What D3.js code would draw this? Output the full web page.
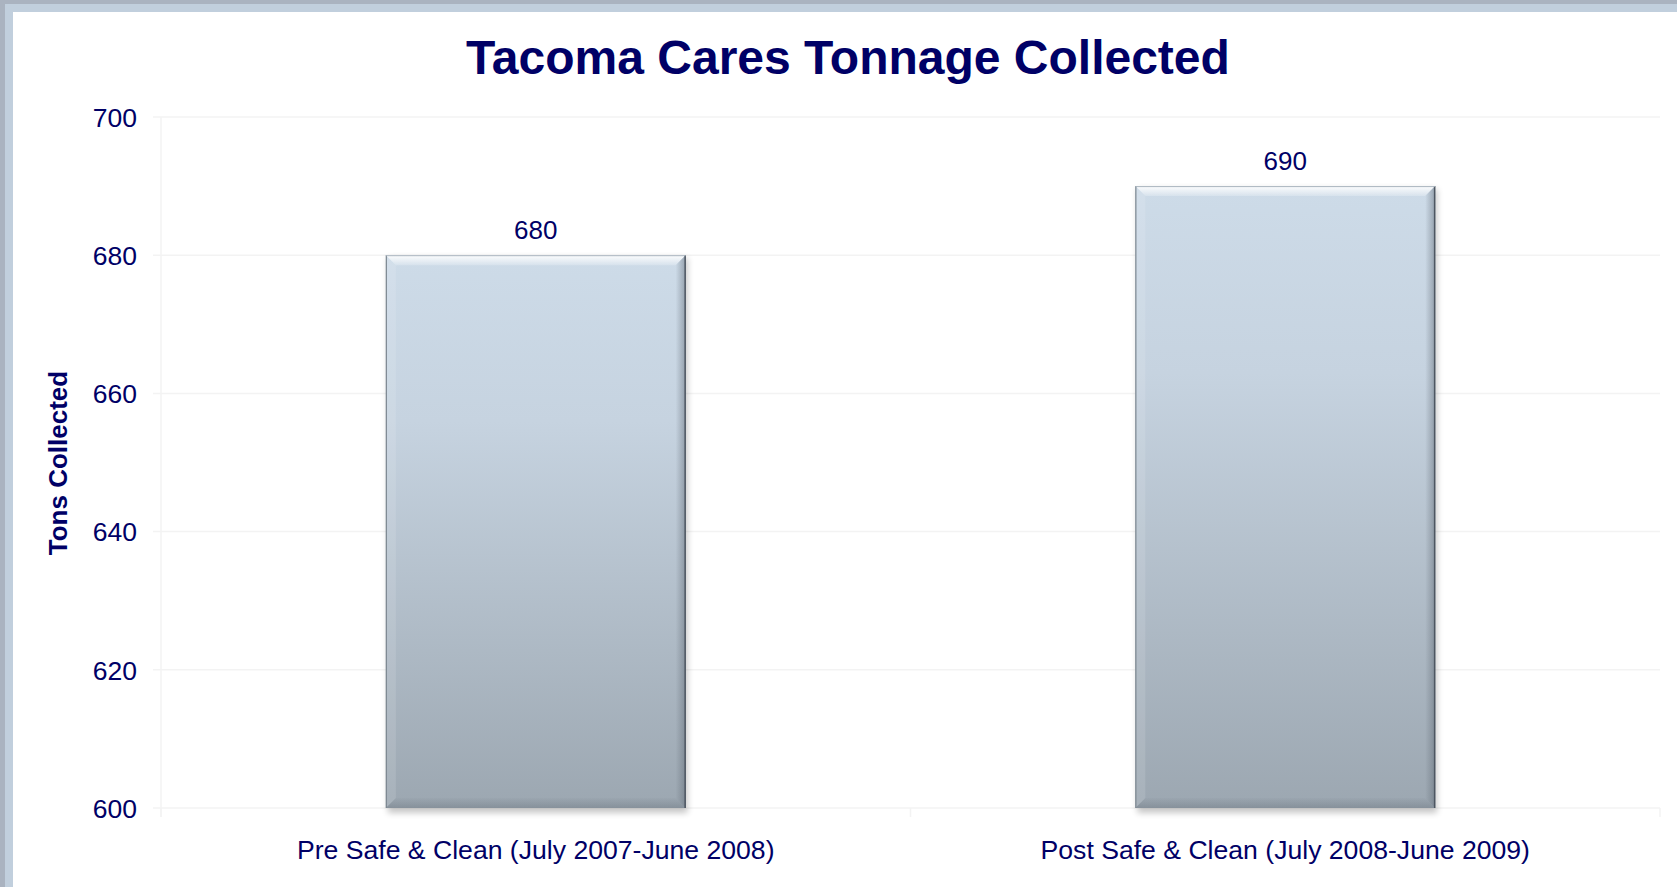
<!DOCTYPE html>
<html>
<head>
<meta charset="utf-8">
<script src="https://cdn.jsdelivr.net/npm/d3@7"></script>
<style>
html,body{margin:0;padding:0;background:#fff;overflow:hidden;}
svg{display:block;font-family:"Liberation Sans",Arial,sans-serif;}
</style>
</head>
<body>
<script>
const title = "Tacoma Cares Tonnage Collected";
const yAxisTitle = "Tons Collected";
const categories = ["Pre Safe & Clean (July 2007-June 2008)", "Post Safe & Clean (July 2008-June 2009)"];
const values = [680, 690];
const yTicks = [600, 620, 640, 660, 680, 700];

const W = 1677, H = 887;
const margin = {left:161, right:17, top:117, bottom:79};
const navy = "#000066";

const svg = d3.select("body").append("svg").attr("width", W).attr("height", H);
const defs = svg.append("defs");

// frame
svg.append("rect").attr("x",0).attr("y",0).attr("width",W).attr("height",H).attr("fill","#aab3c0");
svg.append("rect").attr("x",5).attr("y",4).attr("width",W-5).attr("height",H-4).attr("fill","#c1cfdd");
svg.append("rect").attr("x",13).attr("y",12).attr("width",W-13).attr("height",H-12).attr("fill","#ffffff");

const x = d3.scaleBand().domain(categories).range([margin.left, W - margin.right]).paddingInner(0.6).paddingOuter(0.3);
const y = d3.scaleLinear().domain([600, 700]).range([H - margin.bottom, margin.top]);

const gridColor = "#f3f3f3";
// gridlines
svg.append("g").selectAll("line").data(yTicks).join("line")
  .attr("x1", margin.left - 8).attr("x2", W - margin.right)
  .attr("y1", d => y(d)).attr("y2", d => y(d))
  .attr("stroke", gridColor).attr("stroke-width", 1.5);

// y axis line
svg.append("line").attr("x1", margin.left).attr("x2", margin.left)
  .attr("y1", y(700)).attr("y2", y(600) + 9).attr("stroke", gridColor).attr("stroke-width", 1.5);

// x category boundary ticks
const step = x.step();
const bounds = [margin.left, margin.left + step, margin.left + 2*step];
svg.append("g").selectAll("line").data(bounds).join("line")
  .attr("x1", d => d).attr("x2", d => d)
  .attr("y1", y(600)).attr("y2", y(600) + 9)
  .attr("stroke", gridColor).attr("stroke-width", 1.5);

// y tick labels
const yAxis = d3.axisLeft(y).tickValues(yTicks).tickSize(0).tickPadding(0).tickFormat(d3.format("d"));
const ga = svg.append("g").attr("transform", `translate(${margin.left - 24},0)`).call(yAxis);
ga.select(".domain").remove();
ga.selectAll("text").attr("fill", navy).attr("font-size", 26.5).attr("font-family", '"Liberation Sans",Arial,sans-serif').attr("dy", "0.35em");

// x labels
const xAxis = d3.axisBottom(x).tickSize(0).tickPadding(0);
const gx = svg.append("g").attr("transform", `translate(0,${y(600)})`).call(xAxis);
gx.select(".domain").remove();
gx.selectAll("text").attr("fill", navy).attr("font-size", 26.6).attr("font-family", '"Liberation Sans",Arial,sans-serif').attr("dy", null).attr("y", 51);

// gradients
const g1 = defs.append("linearGradient").attr("id","barGrad").attr("x1",0).attr("y1",0).attr("x2",0).attr("y2",1);
g1.append("stop").attr("offset","0%").attr("stop-color","#cddbe8");
g1.append("stop").attr("offset","30%").attr("stop-color","#c6d3e0");
g1.append("stop").attr("offset","100%").attr("stop-color","#9ca7b1");
const gTop = defs.append("linearGradient").attr("id","topBevel").attr("x1",0).attr("y1",0).attr("x2",0).attr("y2",1);
gTop.append("stop").attr("offset","0%").attr("stop-color","#ffffff").attr("stop-opacity",0.95);
gTop.append("stop").attr("offset","100%").attr("stop-color","#ffffff").attr("stop-opacity",0.2);
const gRight = defs.append("linearGradient").attr("id","rightBevel").attr("x1",0).attr("y1",0).attr("x2",1).attr("y2",0);
gRight.append("stop").attr("offset","0%").attr("stop-color","#5d6772").attr("stop-opacity",0.0);
gRight.append("stop").attr("offset","100%").attr("stop-color","#5d6772").attr("stop-opacity",0.5);
const gBot = defs.append("linearGradient").attr("id","botBevel").attr("x1",0).attr("y1",0).attr("x2",0).attr("y2",1);
gBot.append("stop").attr("offset","0%").attr("stop-color","#6c7680").attr("stop-opacity",0.05);
gBot.append("stop").attr("offset","100%").attr("stop-color","#6c7680").attr("stop-opacity",0.45);
const shadow = defs.append("filter").attr("id","shadow").attr("x","-10%").attr("y","-10%").attr("width","120%").attr("height","120%");
shadow.append("feGaussianBlur").attr("stdDeviation", 3);

const data = categories.map((c,i) => ({c, v: values[i]}));
const bars = svg.append("g").selectAll("g").data(data).join("g");
const bev = 10;

// shadow
bars.append("rect")
  .attr("x", d => x(d.c) + 2).attr("y", d => y(d.v) + 3)
  .attr("width", x.bandwidth()).attr("height", d => y(600) - y(d.v) + 2)
  .attr("fill", "#000").attr("opacity", 0.22).attr("filter","url(#shadow)");
// body
bars.append("rect")
  .attr("x", d => x(d.c)).attr("y", d => y(d.v))
  .attr("width", x.bandwidth()).attr("height", d => y(600) - y(d.v))
  .attr("fill", "url(#barGrad)");
// top bevel
bars.append("path").attr("d", d => {
  const x0 = x(d.c), x1 = x0 + x.bandwidth(), y0 = y(d.v);
  return `M${x0},${y0}L${x1},${y0}L${x1-bev},${y0+bev}L${x0+bev},${y0+bev}Z`;
}).attr("fill","url(#topBevel)");
// right bevel
bars.append("path").attr("d", d => {
  const x0 = x(d.c), x1 = x0 + x.bandwidth(), y0 = y(d.v), y1 = y(600);
  return `M${x1},${y0}L${x1},${y1}L${x1-bev},${y1-bev}L${x1-bev},${y0+bev}Z`;
}).attr("fill","url(#rightBevel)");
// left bevel
bars.append("path").attr("d", d => {
  const x0 = x(d.c), y0 = y(d.v), y1 = y(600);
  return `M${x0},${y0}L${x0+bev},${y0+bev}L${x0+bev},${y1-bev}L${x0},${y1}Z`;
}).attr("fill","#ffffff").attr("opacity",0.12);
// bottom bevel
bars.append("path").attr("d", d => {
  const x0 = x(d.c), x1 = x0 + x.bandwidth(), y1 = y(600);
  return `M${x0},${y1}L${x0+bev},${y1-bev}L${x1-bev},${y1-bev}L${x1},${y1}Z`;
}).attr("fill","url(#botBevel)");
// edges
bars.append("line")
  .attr("x1", d => x(d.c)+0.5).attr("x2", d => x(d.c)+0.5)
  .attr("y1", d => y(d.v)).attr("y2", y(600))
  .attr("stroke","#7d8791").attr("stroke-width",1.2);
bars.append("line")
  .attr("x1", d => x(d.c)+x.bandwidth()-0.5).attr("x2", d => x(d.c)+x.bandwidth()-0.5)
  .attr("y1", d => y(d.v)).attr("y2", y(600))
  .attr("stroke","#4d5661").attr("stroke-width",1.5);
bars.append("line")
  .attr("x1", d => x(d.c)).attr("x2", d => x(d.c)+x.bandwidth())
  .attr("y1", d => y(d.v)+0.5).attr("y2", d => y(d.v)+0.5)
  .attr("stroke","#a9b4be").attr("stroke-width",1);

// value labels
bars.append("text")
  .attr("x", d => x(d.c) + x.bandwidth()/2).attr("y", d => y(d.v) - 16)
  .attr("text-anchor","middle").attr("fill", navy).attr("font-size", 26)
  .text(d => d.v);

// title
svg.append("text").attr("x", 848).attr("y", 74).attr("text-anchor","middle")
  .attr("fill", navy).attr("font-size", 48).attr("font-weight","bold").text(title);

// y axis title
svg.append("text").attr("transform", `translate(67,463) rotate(-90)`).attr("text-anchor","middle")
  .attr("fill", navy).attr("font-size", 26).attr("font-weight","bold").text(yAxisTitle);
</script>
</body>
</html>
